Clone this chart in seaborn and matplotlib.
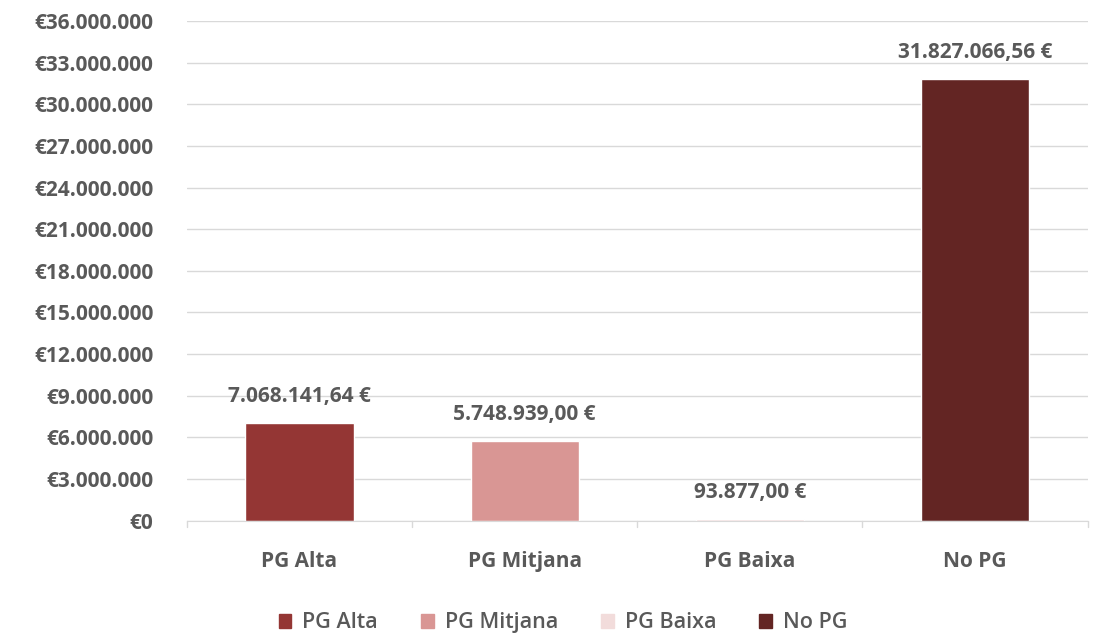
import pandas as pd
import seaborn as sns
import matplotlib.pyplot as plt
from matplotlib.ticker import FuncFormatter, FixedLocator

categories = ["PG Alta", "PG Mitjana", "PG Baixa", "No PG"]
values = [7068141.64, 5748939.00, 93877.00, 31827066.56]
value_labels = ["7.068.141,64 €", "5.748.939,00 €", "93.877,00 €", "31.827.066,56 €"]
colors = ["#943634", "#D99694", "#F2DCDB", "#632523"]

df = pd.DataFrame({"cat": categories, "val": values})

sns.set_style("white")
plt.rcParams['font.family'] = ['Open Sans', 'DejaVu Sans']
txt = "#595959"

fig = plt.figure(figsize=(10.93, 6.35), dpi=100)
ax = fig.add_axes([0.171, 0.180, 0.824, 0.787])

sns.barplot(data=df, x="cat", y="val", hue="cat", palette=colors, dodge=False,
            width=0.48, saturation=1, ax=ax, legend=False,
            order=categories, hue_order=categories)

ax.set_ylim(0, 36000000)
ax.set_xlim(-0.5, 3.5)
ax.yaxis.set_major_locator(FixedLocator(range(0, 36000001, 3000000)))
ax.yaxis.set_major_formatter(FuncFormatter(lambda v, p: "€" + f"{int(v):,}".replace(",", ".")))
ax.grid(axis="y", color="#D9D9D9", linewidth=1)
ax.set_axisbelow(True)
for s in ["top", "right", "left"]:
    ax.spines[s].set_visible(False)
ax.spines["bottom"].set_color("#D9D9D9")
ax.tick_params(axis="y", length=0, labelsize=15, labelcolor=txt, pad=24)
ax.tick_params(axis="x", length=0, labelsize=15, labelcolor=txt, pad=22)
for lab in ax.get_yticklabels() + ax.get_xticklabels():
    lab.set_fontweight("bold")
ax.set_xlabel("")
ax.set_ylabel("")

# category boundary ticks
for b in [-0.5, 0.5, 1.5, 2.5, 3.5]:
    ax.plot([b, b], [0, -0.012], transform=ax.get_xaxis_transform(), color="#D9D9D9",
            linewidth=1, clip_on=False)

for i, (v, lab) in enumerate(zip(values, value_labels)):
    ax.text(i, v + 1150000, lab, ha="center", va="bottom", fontsize=15,
            fontweight="bold", color=txt)

handles = [plt.Rectangle((0, 0), 1, 1, color=c) for c in colors]
leg = fig.legend(handles, categories, loc="lower center", bbox_to_anchor=(0.515, -0.028),
                 ncol=4, frameon=False, fontsize=15.5, handlelength=0.6, handleheight=0.6,
                 columnspacing=2.0, handletextpad=0.5, labelcolor=txt)
for t in leg.get_texts():
    t.set_fontweight("semibold")

plt.savefig("out.png", dpi=100)
